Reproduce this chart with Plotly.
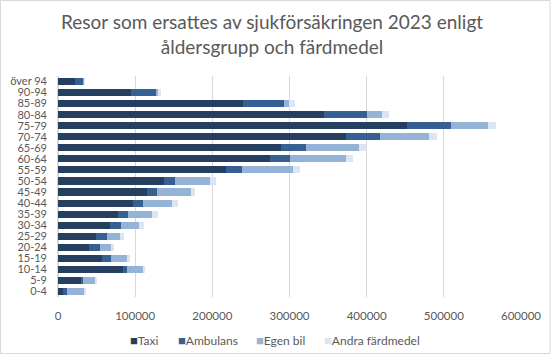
import plotly.graph_objects as go

categories = ["0-4", "5-9", "10-14", "15-19", "20-24", "25-29", "30-34", "35-39",
              "40-44", "45-49", "50-54", "55-59", "60-64", "65-69", "70-74", "75-79",
              "80-84", "85-89", "90-94", "över 94"]
taxi = [6500, 29800, 84200, 57000, 40200, 49200, 67400, 77700, 97200, 115300,
        137300, 217600, 274600, 289000, 373000, 452000, 344600, 239600, 94600, 22000]
ambulans = [5200, 2600, 5200, 11700, 14200, 14300, 14200, 13000, 12900, 12900,
            14300, 20700, 25900, 32000, 44000, 57000, 55400, 53100, 33200, 11000]
egen_bil = [22000, 16800, 22000, 20700, 14300, 16800, 23300, 31100, 37600, 44100,
            45300, 66100, 72500, 69000, 63600, 48000, 19700, 6300, 2200, 1000]
andra = [1300, 1300, 1300, 3900, 3800, 5200, 6500, 7700, 7700, 5200,
         7800, 9100, 9000, 9000, 10400, 10000, 9000, 8000, 3400, 500]

series_names = ["Taxi", "Ambulans", "Egen bil", "Andra färdmedel"]
series_vals = [taxi, ambulans, egen_bil, andra]
series_cols = ["#243f60", "#376092", "#95b3d7", "#dce6f2"]
legend_px = [129, 177, 255, 323]  # left pixel of each legend square

W, H = 551, 354
L, R, T, B = 58, 30, 76, 57
pw, ph = W - L - R, H - T - B

fig = go.Figure()
for name, vals, col in zip(series_names, series_vals, series_cols):
    fig.add_trace(go.Bar(y=categories, x=vals, name=name, orientation="h",
                         marker=dict(color=col, line=dict(width=0)),
                         showlegend=False))

fig.update_layout(
    width=W, height=H, barmode="stack", bargap=0.36,
    margin=dict(l=L, r=R, t=T, b=B, autoexpand=False),
    paper_bgcolor="white", plot_bgcolor="white",
    font=dict(family="Lato, sans-serif", size=11, color="#595959"),
    xaxis=dict(range=[0, 600000], dtick=100000, tickformat="d", showgrid=True,
               gridcolor="#d9d9d9", gridwidth=1, zeroline=True, zerolinecolor="#d9d9d9",
               ticks="", ticklabelstandoff=10,
               tickfont=dict(size=11.5, color="#595959")),
    yaxis=dict(showgrid=False, ticks="", dtick=1, ticklabelstandoff=10,
               tickfont=dict(size=11, color="#595959")),
    showlegend=False,
)
fig.add_annotation(
    text="Resor som ersattes av sjukförsäkringen 2023 enligt<br>åldersgrupp och färdmedel",
    xref="paper", yref="paper", x=(272 - L) / pw, xanchor="center",
    y=1 + (T - 8) / ph, yanchor="top", showarrow=False, align="center",
    font=dict(size=19, color="#595959"))
for name, col, px in zip(series_names, series_cols, legend_px):
    fig.add_annotation(
        text=f"<span style='color:{col};font-size:13px'>■</span>{name}",
        xref="paper", yref="paper", x=(px - 1 - L) / pw, xanchor="left",
        y=-(339.5 - (T + ph)) / ph, yanchor="middle", showarrow=False,
        font=dict(size=12, color="#595959"))
fig.add_shape(type="rect", xref="paper", yref="paper",
              x0=-L / pw + 0.5 / pw, x1=1 + (R - 1) / pw,
              y0=-B / ph + 0.5 / ph, y1=1 + (T - 0.5) / ph,
              line=dict(color="#d9d9d9", width=1), layer="below")
fig.write_html("out.html")
